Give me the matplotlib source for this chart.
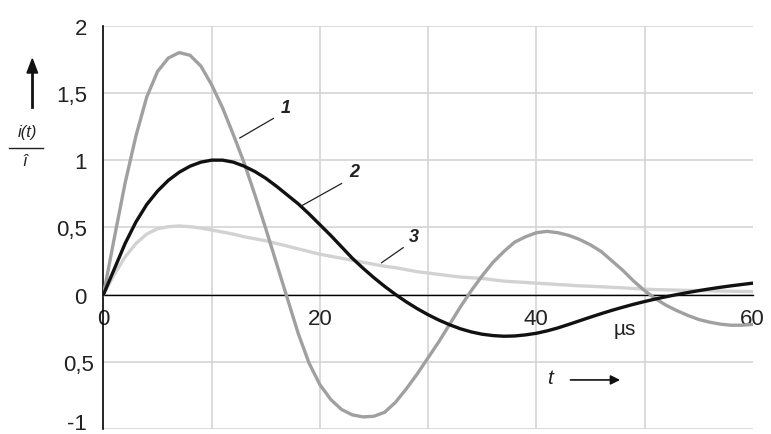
import numpy as np
import matplotlib.pyplot as plt
from matplotlib.transforms import ScaledTranslation

plt.rcParams['font.family'] = ['Liberation Sans', 'DejaVu Sans']

t = np.arange(0, 61)

i1 = [0, 0.42, 0.83, 1.18, 1.47, 1.66, 1.76, 1.80, 1.78, 1.70,
      1.56, 1.39, 1.19, 0.98, 0.74, 0.49, 0.23, -0.03, -0.29, -0.51,
      -0.67, -0.78, -0.855, -0.895, -0.91, -0.905, -0.875, -0.80, -0.70, -0.59,
      -0.47, -0.35, -0.22, -0.09, 0.03, 0.14, 0.24, 0.32, 0.39, 0.43,
      0.46, 0.47, 0.46, 0.44, 0.41, 0.37, 0.32, 0.25, 0.18, 0.10,
      0.03, -0.03, -0.08, -0.12, -0.155, -0.185, -0.205, -0.22, -0.228, -0.228,
      -0.222]

i2 = [0, 0.19, 0.38, 0.54, 0.67, 0.77, 0.85, 0.91, 0.955, 0.985,
      1.00, 1.00, 0.985, 0.955, 0.915, 0.865, 0.805, 0.74, 0.675, 0.60,
      0.52, 0.44, 0.355, 0.27, 0.195, 0.125, 0.06, 0.0, -0.055, -0.105,
      -0.15, -0.19, -0.225, -0.255, -0.278, -0.295, -0.305, -0.31, -0.308, -0.30,
      -0.288, -0.27, -0.248, -0.222, -0.195, -0.168, -0.142, -0.117, -0.094, -0.072,
      -0.052, -0.033, -0.016, 0.0, 0.015, 0.029, 0.042, 0.054, 0.065, 0.075,
      0.085]

i3 = [0, 0.15, 0.28, 0.38, 0.45, 0.49, 0.505, 0.51, 0.505, 0.495,
      0.48, 0.465, 0.45, 0.43, 0.415, 0.40, 0.38, 0.36, 0.34, 0.32,
      0.30, 0.285, 0.27, 0.255, 0.24, 0.225, 0.21, 0.20, 0.185, 0.17,
      0.16, 0.15, 0.14, 0.13, 0.125, 0.12, 0.11, 0.10, 0.095, 0.09,
      0.085, 0.08, 0.075, 0.07, 0.065, 0.062, 0.058, 0.054, 0.05, 0.045,
      0.04, 0.037, 0.035, 0.033, 0.031, 0.03, 0.028, 0.026, 0.025, 0.023,
      0.022]

xticks = [0, 10, 20, 30, 40, 50, 60]
xlabels = ['0', '', '20', '', '40', '', '60']
yticks = [-1, -0.5, 0, 0.5, 1, 1.5, 2]
ylabels = ['-1', '0,5', '0', '0,5', '1', '1,5', '2']

fig = plt.figure(figsize=(7.71, 4.35), dpi=100)
ax = fig.add_axes([0.1342, 0.0115, 0.8421, 0.9271])

ax.plot(t, i3, color='#d2d2d2', lw=2.4, solid_capstyle='round', solid_joinstyle='round', zorder=3)
ax.plot(t, i1, color='#a0a0a0', lw=2.4, solid_capstyle='round', solid_joinstyle='round', zorder=4)
ax.plot(t, i2, color='#111111', lw=2.4, solid_capstyle='round', solid_joinstyle='round', zorder=5)

ax.set_xlim(0, 60)
ax.set_ylim(-1, 2)
ax.spines['top'].set_visible(False)
ax.spines['right'].set_visible(False)
ax.spines['bottom'].set_position(('data', 0))
ax.spines['bottom'].set_linewidth(1.0)
ax.spines['left'].set_linewidth(1.2)
ax.spines['bottom'].set_zorder(2)

ax.set_xticks(xticks)
ax.set_xticklabels(xlabels)
ax.set_yticks(yticks)
ax.set_yticklabels(ylabels)
ax.tick_params(length=0, labelsize=16, colors='#222222')
ax.tick_params(axis='y', pad=12)
ax.tick_params(axis='x', pad=10)
ax.grid(True, color='#d4d4d4', lw=1.2, zorder=0)
ax.set_axisbelow(True)
ax.xaxis.get_gridlines()[-1].set_visible(False)
ax.xaxis.get_gridlines()[0].set_visible(False)

# die negative 0,5 sitzt etwas weiter rechts, -1 etwas hoeher
ylbls = ax.yaxis.get_majorticklabels()
ylbls[1].set_transform(ylbls[1].get_transform() + ScaledTranslation(5/72, 0, fig.dpi_scale_trans))
ylbls[0].set_transform(ylbls[0].get_transform() + ScaledTranslation(0, 6/72, fig.dpi_scale_trans))

# Kurvennummern mit Hinweislinien
for num, xy_txt, p0, p1 in [('1', (16.8, 1.39), (15.7, 1.31), (12.6, 1.165)),
                            ('2', (23.2, 0.915), (22.0, 0.826), (18.3, 0.66)),
                            ('3', (28.7, 0.432), (27.7, 0.349), (25.7, 0.237))]:
    ax.plot([p0[0], p1[0]], [p0[1], p1[1]], color='#222222', lw=0.9, zorder=6)
    ax.text(xy_txt[0], xy_txt[1], num, fontsize=13, fontweight='bold', style='italic',
            ha='center', va='center', color='#222222', zorder=6)

ax.text(48.2, -0.25, 'µs', fontsize=15, ha='center', va='center', color='#222222')
ax.text(41.3, -0.62, 't', fontsize=15, style='italic', ha='center', va='center', color='#222222')
ax.annotate('', xy=(48.0, -0.635), xytext=(42.9, -0.635),
            arrowprops=dict(arrowstyle='-|>', color='#111111', lw=1.2, mutation_scale=14))

# y-Achsenbeschriftung links
fig.text(27.5/771, 1 - 132.5/435, 'i(t)', fontsize=12, style='italic',
         ha='center', va='center', color='#222222')
fig.add_artist(plt.Line2D([9/771, 43/771], [1 - 149/435, 1 - 149/435], color='#222222', lw=1.0))
fig.text(25/771, 1 - 161.5/435, 'î', fontsize=12, style='italic',
         ha='center', va='center', color='#222222')
fig.add_artist(plt.Line2D([32.3/771, 32.3/771], [1 - 108/435, 1 - 72/435], color='#111111', lw=2.0))
fig.patches.append(plt.Polygon([[27/771, 1 - 74/435], [37.6/771, 1 - 74/435], [32.3/771, 1 - 60/435]],
                               closed=True, color='#111111', transform=fig.transFigure, figure=fig))

fig.savefig('out.png', dpi=100)
